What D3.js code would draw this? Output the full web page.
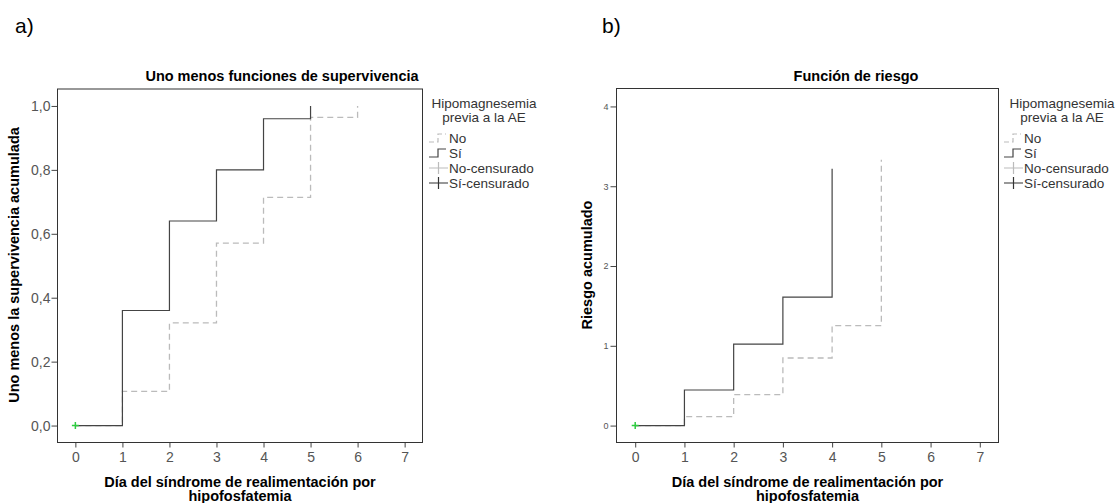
<!DOCTYPE html>
<html><head><meta charset="utf-8">
<script src="https://cdn.jsdelivr.net/npm/d3@7"></script>
<style>body{margin:0;background:#fff}svg{display:block}text{font-family:"Liberation Sans",Arial,sans-serif}</style>
</head><body>
<svg id="c" width="1120" height="503"></svg>
<script>
const days = [0,1,2,3,4,5,6];
const xTicks = [0,1,2,3,4,5,6,7];
// a) one minus survival
const noA = [0, 0.107, 0.321, 0.571, 0.714, 0.964, 1.0];
const siA = [0, 0.36, 0.64, 0.80, 0.96, 1.0];
const yTicksA = [0, 0.2, 0.4, 0.6, 0.8, 1.0];
// b) cumulative hazard
const noB = [0, 0.113, 0.388, 0.847, 1.253, 3.332];
const siB = [0, 0.446, 1.022, 1.609, 3.219];
const yTicksB = [0, 1, 2, 3, 4];
const legendTitle = ["Hipomagnesemia", "previa a la AE"];
const legendItems = ["No", "Sí", "No-censurado", "Sí-censurado"];

const svg = d3.select("#c");
svg.append("rect").attr("width",1120).attr("height",503).attr("fill","#fff");

function panel(o){
  const x = d3.scaleLinear().domain([-0.38, 7.38]).range([o.l, o.r]);
  const y = d3.scaleLinear().domain(o.yd).range([442.5, o.t]);
  const g = svg.append("g");
  const xa = g.append("g").attr("transform","translate(0,442.5)")
    .call(d3.axisBottom(x).tickValues(xTicks).tickSize(5).tickPadding(5).tickFormat(d3.format("d")));
  xa.select(".domain").remove();
  xa.selectAll("line").attr("stroke","#444");
  xa.selectAll("text").attr("font-size",14).attr("fill","#555").attr("dy","0.71em");
  const ya = g.append("g").attr("transform",`translate(${o.l},0)`)
    .call(d3.axisLeft(y).tickValues(o.yt).tickSize(6).tickPadding(o.yPad).tickFormat(o.yf));
  ya.select(".domain").remove();
  ya.selectAll("line").attr("stroke","#444");
  ya.selectAll("text").attr("font-size",o.yfs).attr("fill","#555");
  g.append("rect").attr("x",o.l).attr("y",o.t).attr("width",o.r-o.l).attr("height",442.5-o.t)
    .attr("fill","none").attr("stroke","#333").attr("stroke-width",1);
  const line = d3.line().x((d,i)=>x(days[i])).y(d=>y(d)).curve(d3.curveStepAfter);
  g.append("path").attr("d",line(o.no)).attr("fill","none").attr("stroke","#bbb")
    .attr("stroke-width",1.3).attr("stroke-dasharray","6,4");
  g.append("path").attr("d",line(o.si)).attr("fill","none").attr("stroke","#444").attr("stroke-width",1.2);
  const cx = x(0), cy = y(0);
  g.append("path").attr("d",`M${cx-3.5},${cy}H${cx+3.5}M${cx},${cy-3.5}V${cy+3.5}`)
    .attr("stroke","#2ecc40").attr("stroke-width",1.5);
  const fs = 14.5;
  g.append("text").attr("x",o.tx).attr("y",81).attr("text-anchor","middle")
    .attr("font-size",fs).attr("font-weight","bold").text(o.title);
  g.append("text").attr("x",(o.l+o.r)/2).attr("y",487).attr("text-anchor","middle")
    .attr("font-size",fs).attr("font-weight","bold").text("Día del síndrome de realimentación por");
  g.append("text").attr("x",(o.l+o.r)/2).attr("y",501).attr("text-anchor","middle")
    .attr("font-size",fs).attr("font-weight","bold").text("hipofosfatemia");
  g.append("text").attr("transform",`translate(${o.ytx},265) rotate(-90)`).attr("text-anchor","middle")
    .attr("font-size",fs).attr("font-weight","bold").text(o.ytitle);
  g.append("text").attr("x",o.lx).attr("y",33).attr("font-size",21).text(o.label);
  const lg = g.append("g");
  legendTitle.forEach((t,i)=>lg.append("text").attr("x",o.lgc).attr("y",107.5+i*14.8)
    .attr("text-anchor","middle").attr("font-size",13.5).attr("fill","#333").text(t));
  const sx = o.lgx;
  legendItems.forEach((t,i)=>{
    const cyy = 138 + i*15;
    lg.append("text").attr("x",sx+20).attr("y",cyy+4.8).attr("font-size",13.5).attr("fill","#333").text(t);
    if(i<2){
      lg.append("path").attr("d",`M${sx},${cyy+4}H${sx+9}V${cyy-4}H${sx+17}`).attr("fill","none")
        .attr("stroke", i===0?"#bbb":"#444").attr("stroke-width",1.2)
        .attr("stroke-dasharray", i===0?"5,3":null);
    } else {
      lg.append("path").attr("d",`M${sx},${cyy}H${sx+19}M${sx+9.5},${cyy-6}V${cyy+6}`)
        .attr("fill","none").attr("stroke", i===2?"#bbb":"#333").attr("stroke-width",1.2);
    }
  });
}

panel({l:57.5, r:422.5, t:89, yd:[-0.053,1.053], yt:yTicksA, yf:d=>d3.format(".1f")(d).replace(".",","),
  yPad:1, yfs:14, no:noA, si:siA, title:"Uno menos funciones de supervivencia", tx:282,
  ytitle:"Uno menos la supervivencia acumulada", ytx:19, label:"a)", lx:15, lgc:484, lgx:429});
panel({l:616.5, r:998.5, t:88.5, yd:[-0.212,4.225], yt:yTicksB, yf:d3.format("d"),
  yPad:2, yfs:9, no:noB, si:siB, title:"Función de riesgo", tx:856,
  ytitle:"Riesgo acumulado", ytx:592, label:"b)", lx:602, lgc:1062, lgx:1004});
</script>
</body></html>
